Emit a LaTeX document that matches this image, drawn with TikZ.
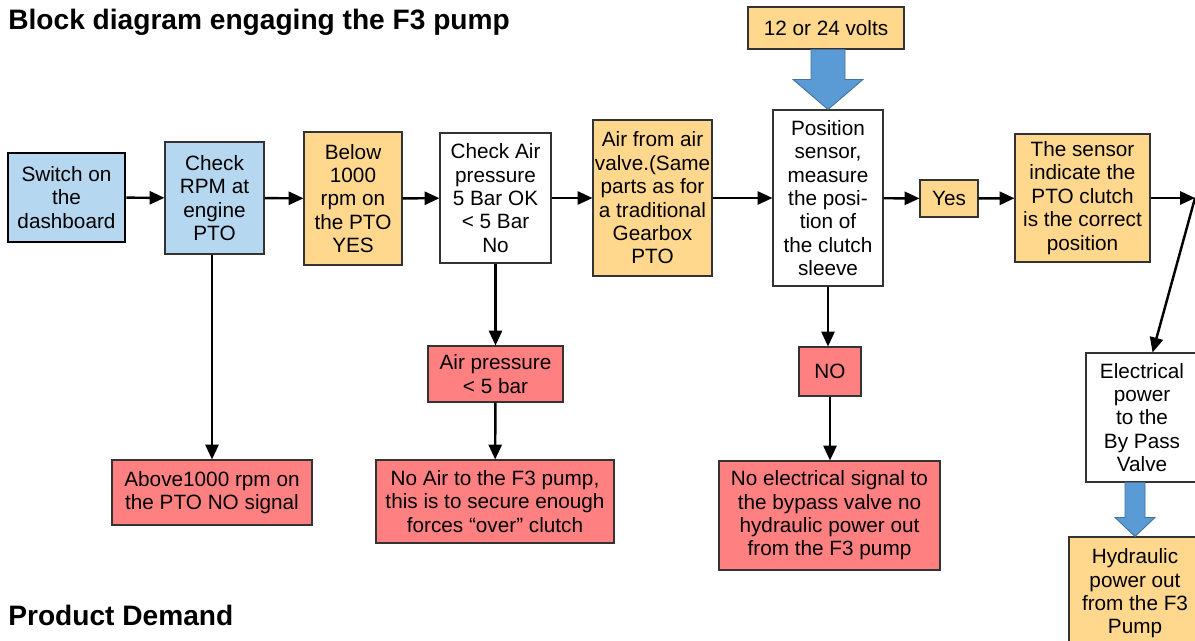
\documentclass[tikz,border=0pt]{standalone}
\usepackage{fontspec}
\setmainfont{Liberation Sans}
\usetikzlibrary{arrows.meta,calc}

\definecolor{boxblue}{RGB}{182,215,240}
\definecolor{boxorange}{RGB}{255,216,142}
\definecolor{boxred}{RGB}{255,128,128}
\definecolor{fatblue}{RGB}{91,155,213}
\definecolor{fatedge}{RGB}{65,113,156}

\tikzset{
  blk/.style={draw=black!80, line width=0.6pt, align=center, inner sep=1pt,
    font=\fontsize{11.8}{13.3}\selectfont},
  blueblk/.style={blk, fill=boxblue},
  orangeblk/.style={blk, fill=boxorange},
  redblk/.style={blk, fill=boxred},
  whiteblk/.style={blk, fill=white},
  flow/.style={line width=1.4pt, -{Triangle[length=8.5pt,width=7.5pt]}},
  fatarrow/.style={fill=fatblue, draw=fatedge, line width=0.5pt},
  heading/.style={anchor=base west, inner sep=0pt, font=\fontsize{16}{19}\bfseries}
}

% fat arrow: from node, to node, shaft half width, head half width, head length
\newcommand\fatarrow[5]{%
  \filldraw[fatarrow] ($(#1.south -| #2.north)+(-#3,0)$) -- ($(#2.north)+(-#3,#5)$)
    -- ($(#2.north)+(-#4,#5)$) -- (#2.north) -- ($(#2.north)+(#4,#5)$)
    -- ($(#2.north)+(#3,#5)$) -- ($(#1.south -| #2.north)+(#3,0)$) -- cycle;}

\begin{document}
\begin{tikzpicture}
  \useasboundingbox (0,0) rectangle (23.9,-12.82);

  \node[heading] (title) at (0.16,-0.6) {Block diagram engaging the F3 pump};
  \node[heading] (demand) at (0.16,-12.5) {Product Demand};

  %A: Main row
  \node[blueblk, line width=1.6pt, draw=black, minimum width=2.34cm, minimum height=1.78cm]
    (switch) at (1.33,-3.95) {Switch on\\the\\dashboard};
  \node[blueblk, minimum width=1.98cm, minimum height=2.24cm]
    (rpm) at (4.29,-3.96) {Check\\RPM at\\engine\\PTO};
  \node[orangeblk, minimum width=1.96cm, minimum height=2.66cm]
    (below) at (7.06,-3.97) {Below\\1000\\rpm on\\the PTO\\YES};
  \node[whiteblk, minimum width=2.22cm, minimum height=2.6cm]
    (aircheck) at (9.91,-3.96) {Check Air\\pressure\\5 Bar OK\\< 5 Bar\\No};
  \node[orangeblk, minimum width=2.38cm, minimum height=3.12cm]
    (valve) at (13.05,-3.96) {Air from air\\valve.(Same\\parts as for\\a traditional\\Gearbox\\PTO};
  \node[whiteblk, minimum width=2.2cm, minimum height=3.52cm]
    (pos) at (16.56,-3.96) {Position\\sensor,\\measure\\the posi-\\tion of\\the clutch\\sleeve};
  \node[orangeblk, minimum width=1.16cm, minimum height=0.74cm]
    (yes) at (18.98,-3.97) {Yes};
  \node[orangeblk, minimum width=2.7cm, minimum height=2.56cm]
    (sensor) at (21.65,-3.96) {The sensor\\indicate the\\PTO clutch\\is the correct\\position};
  \coordinate (edge) at (23.9,-3.96);

  \node[orangeblk, minimum width=3.12cm, minimum height=0.84cm]
    (volts) at (16.52,-0.56) {12 or 24 volts};

  %A: Branches
  \node[redblk, minimum width=4.0cm, minimum height=1.3cm]
    (above) at (4.24,-9.85) {Above1000 rpm on\\the PTO NO signal};
  \node[redblk, minimum width=2.7cm, minimum height=1.12cm]
    (airlow) at (9.91,-7.48) {Air pressure\\< 5 bar};
  \node[redblk, minimum width=4.76cm, minimum height=1.66cm]
    (noair) at (9.9,-10.03) {No Air to the F3 pump,\\this is to secure enough\\forces “over” clutch};
  \node[redblk, minimum width=1.24cm, minimum height=0.98cm]
    (no) at (16.6,-7.43) {NO};
  \node[redblk, minimum width=4.42cm, minimum height=2.18cm]
    (noelec) at (16.59,-10.31) {No electrical signal to\\the bypass valve no\\hydraulic power out\\from the F3 pump};
  \node[whiteblk, minimum width=2.24cm, minimum height=2.58cm]
    (elec) at (22.84,-8.35) {Electrical\\power\\to the\\By Pass\\Valve};
  \node[orangeblk, minimum width=2.64cm, minimum height=2.26cm]
    (hyd) at (22.7,-11.87) {Hydraulic\\power out\\from the F3\\Pump};

  %A: Connectors
  \draw[flow] (switch) -- (rpm);
  \draw[flow] (rpm) -- (below);
  \draw[flow] (below) -- (aircheck);
  \draw[flow] (aircheck) -- (valve);
  \draw[flow] (valve) -- (pos);
  \draw[flow] (pos) -- (yes);
  \draw[flow] (yes) -- (sensor);
  \draw[flow] (sensor) -- (edge);
  \draw[flow] (edge) -- ([xshift=6pt]elec.north);
  \draw[flow] (above.north |- rpm.south) -- (above.north);
  \draw[flow] (aircheck) -- (airlow);
  \draw[flow] (airlow) -- (noair);
  \draw[flow] (pos.south) -- (pos.south |- no.north);
  \draw[flow] (no) -- (no.south |- noelec.north);

  %A: Power arrows
  \fatarrow{volts}{pos}{0.34}{0.7}{0.6}
  \fatarrow{elec}{hyd}{0.2}{0.4}{0.38}
\end{tikzpicture}
\end{document}
